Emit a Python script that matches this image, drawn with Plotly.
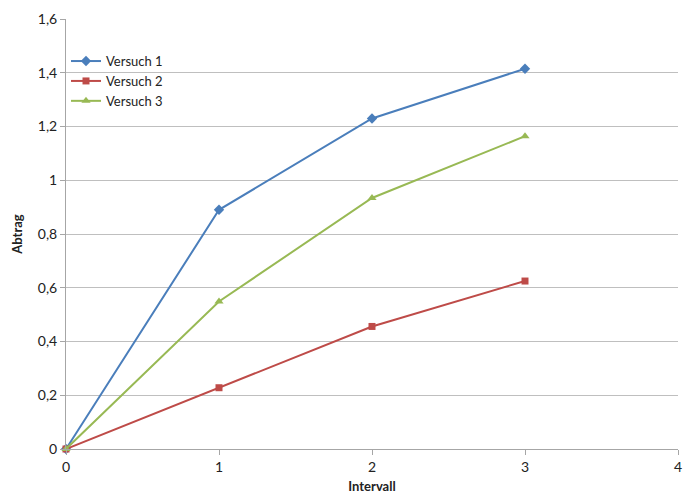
import plotly.graph_objects as go

intervall = [0, 1, 2, 3]
versuch_1 = [0, 0.89, 1.23, 1.415]
versuch_2 = [0, 0.228, 0.456, 0.625]
versuch_3 = [0, 0.549, 0.934, 1.164]

y_ticks = [0, 0.2, 0.4, 0.6, 0.8, 1.0, 1.2, 1.4, 1.6]
y_tick_labels = ["0", "0,2", "0,4", "0,6", "0,8", "1", "1,2", "1,4", "1,6"]
x_ticks = [0, 1, 2, 3, 4]

series = [
    ("Versuch 1", versuch_1, "#4a7ebb", "diamond", 8),
    ("Versuch 2", versuch_2, "#be4b48", "square", 7),
    ("Versuch 3", versuch_3, "#98b954", "triangle-up", 8),
]

fig = go.Figure()
for name, vals, color, sym, size in series:
    fig.add_trace(go.Scatter(
        x=intervall, y=vals, name=name, mode="lines+markers",
        line=dict(color=color, width=2),
        marker=dict(symbol=sym, size=size, color=color),
        cliponaxis=False,
    ))

font = "Lato, 'Open Sans', sans-serif"
fig.update_layout(
    width=698, height=494,
    margin=dict(l=66, r=20, t=19, b=45),
    paper_bgcolor="white", plot_bgcolor="white",
    font=dict(family=font, size=14, color="#222"),
    showlegend=True,
    legend=dict(x=0.0, y=0.937, xanchor="left", yanchor="top",
                bgcolor="rgba(0,0,0,0)", font=dict(size=13, color="#222"),
                tracegroupgap=0, itemwidth=30),
    xaxis=dict(
        range=[0, 4], tickvals=x_ticks, showgrid=False, zeroline=False,
        showline=True, linecolor="#a6a6a6", linewidth=1,
        ticks="outside", ticklen=5, tickcolor="#a6a6a6",
        automargin=False,
        title=dict(text="<b>Intervall</b>", font=dict(size=13, color="#222"), standoff=8),
    ),
    yaxis=dict(
        range=[0, 1.6], tickvals=y_ticks, ticktext=y_tick_labels,
        showgrid=True, gridcolor="#bfbfbf", gridwidth=1, zeroline=False,
        showline=True, linecolor="#a6a6a6", linewidth=1,
        ticks="outside", ticklen=5, tickcolor="#a6a6a6",
        automargin=False,
        title=dict(text="<b>Abtrag</b>", font=dict(size=13, color="#222"), standoff=12),
    ),
)

fig.write_html("out.html")
